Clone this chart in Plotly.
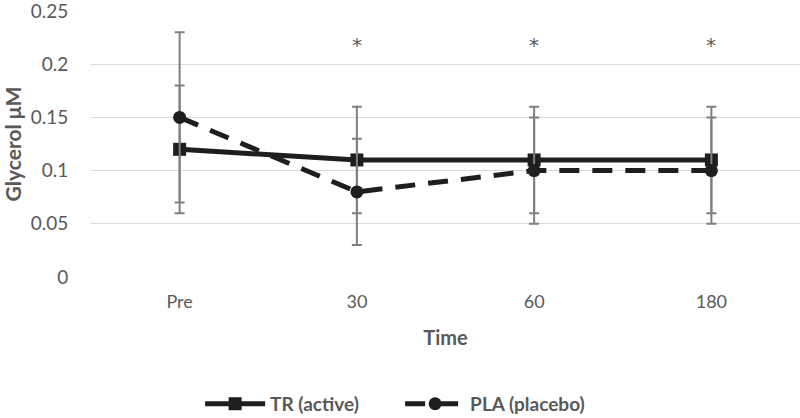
import plotly.graph_objects as go

categories = ["Pre", "30", "60", "180"]
tr_values = [0.12, 0.11, 0.11, 0.11]
tr_err = [0.06, 0.05, 0.05, 0.05]
pla_values = [0.15, 0.08, 0.10, 0.10]
pla_err = [0.08, 0.05, 0.05, 0.05]
sig_categories = ["30", "60", "180"]
sig_y = [0.218, 0.218, 0.218]
y_ticks = [0, 0.05, 0.1, 0.15, 0.2, 0.25]
y_tick_labels = ["0", "0.05", "0.1", "0.15", "0.2", "0.25"]

FONT = "Lato, Carlito, Calibri, sans-serif"
GRAY = "#595959"
LINE = "#1e1e1e"
ERR = "#7f7f7f"
CLEAR = "rgba(0,0,0,0)"

fig = go.Figure()
fig.add_trace(go.Scatter(
    x=categories, y=tr_values, name="TR (active)", mode="lines+markers",
    line=dict(color=LINE, width=5),
    marker=dict(symbol="square", size=13, color=LINE),
    error_y=dict(type="data", array=tr_err, color=ERR, thickness=2, width=5),
))
fig.add_trace(go.Scatter(
    x=categories, y=pla_values, name="PLA (placebo)", mode="lines+markers",
    line=dict(color=LINE, width=5, dash="20px,13px"),
    marker=dict(symbol="circle", size=13, color=LINE),
    error_y=dict(type="data", array=pla_err, color=ERR, thickness=2, width=5),
))
for c, yv in zip(sig_categories, sig_y):
    fig.add_annotation(x=categories.index(c), y=yv, text="*", showarrow=False,
                       font=dict(family="DejaVu Sans, sans-serif", size=20, color=GRAY))

fig.update_layout(
    width=800, height=418,
    margin=dict(l=91, r=0, t=11, b=141, autoexpand=False),
    paper_bgcolor="white", plot_bgcolor="white",
    font=dict(family=FONT, color=GRAY, size=19),
    showlegend=True,
    legend=dict(orientation="h", x=0.436, xanchor="center", y=-0.477, yanchor="middle",
                itemwidth=60, entrywidth=125,
                font=dict(family=FONT, size=19, color=GRAY, weight="bold")),
    xaxis=dict(type="category", range=[-0.5, 3.5], showgrid=False, zeroline=False,
               showline=False, ticks="outside", ticklen=8, tickcolor=CLEAR,
               automargin=False, ticklabeloverflow="allow",
               tickfont=dict(size=18, color=GRAY),
               title=dict(text="Time", font=dict(family=FONT, size=20, color=GRAY, weight="bold"),
                          standoff=20)),
    yaxis=dict(range=[0, 0.25], tickvals=y_ticks, ticktext=y_tick_labels,
               showgrid=True, gridcolor="#d9d9d9", gridwidth=1, zeroline=False,
               showline=False, ticks="outside", ticklen=18, tickcolor=CLEAR,
               automargin=False, ticklabeloverflow="allow",
               tickfont=dict(size=19, color=GRAY),
               title=dict(text="Glycerol μM", font=dict(family=FONT, size=21, color=GRAY, weight="bold"),
                          standoff=10)),
)

fig.write_html("out.html", config={"displayModeBar": False},
               post_script="document.body.style.margin='0px';")
